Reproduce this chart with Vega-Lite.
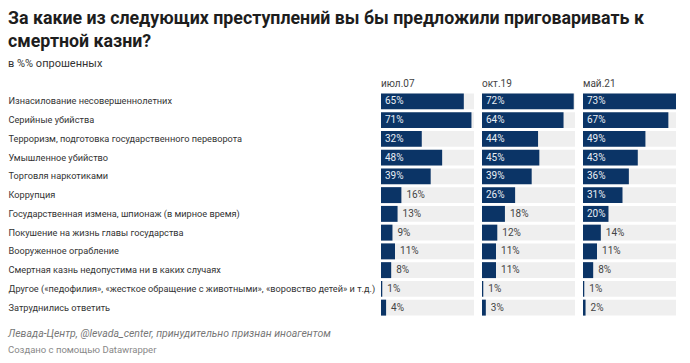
{
  "$schema": "https://vega.github.io/schema/vega-lite/v6.json",
  "padding": {"left": 8, "top": 10, "right": 8, "bottom": 4},
  "background": "white",
  "config": {
    "font": "Roboto",
    "view": {"stroke": null},
    "concat": {"spacing": 8}
  },
  "title": {
    "text": ["За какие из следующих преступлений вы бы предложили приговаривать к", "смертной казни?"],
    "subtitle": "в %% опрошенных",
    "anchor": "start",
    "font": "Roboto",
    "fontSize": 17.8,
    "fontWeight": "bold",
    "color": "#1d1d1d",
    "lineHeight": 23,
    "subtitleFont": "Roboto",
    "subtitleFontSize": 11,
    "subtitleColor": "#333333",
    "subtitlePadding": 7,
    "offset": 10
  },
  "datasets": {
    "poll": [
      {"category": "Изнасилование несовершеннолетних", "survey": "июл.07", "value": 65},
      {"category": "Изнасилование несовершеннолетних", "survey": "окт.19", "value": 72},
      {"category": "Изнасилование несовершеннолетних", "survey": "май.21", "value": 73},
      {"category": "Серийные убийства", "survey": "июл.07", "value": 71},
      {"category": "Серийные убийства", "survey": "окт.19", "value": 64},
      {"category": "Серийные убийства", "survey": "май.21", "value": 67},
      {"category": "Терроризм, подготовка государственного переворота", "survey": "июл.07", "value": 32},
      {"category": "Терроризм, подготовка государственного переворота", "survey": "окт.19", "value": 44},
      {"category": "Терроризм, подготовка государственного переворота", "survey": "май.21", "value": 49},
      {"category": "Умышленное убийство", "survey": "июл.07", "value": 48},
      {"category": "Умышленное убийство", "survey": "окт.19", "value": 45},
      {"category": "Умышленное убийство", "survey": "май.21", "value": 43},
      {"category": "Торговля наркотиками", "survey": "июл.07", "value": 39},
      {"category": "Торговля наркотиками", "survey": "окт.19", "value": 39},
      {"category": "Торговля наркотиками", "survey": "май.21", "value": 36},
      {"category": "Коррупция", "survey": "июл.07", "value": 16},
      {"category": "Коррупция", "survey": "окт.19", "value": 26},
      {"category": "Коррупция", "survey": "май.21", "value": 31},
      {"category": "Государственная измена, шпионаж (в мирное время)", "survey": "июл.07", "value": 13},
      {"category": "Государственная измена, шпионаж (в мирное время)", "survey": "окт.19", "value": 18},
      {"category": "Государственная измена, шпионаж (в мирное время)", "survey": "май.21", "value": 20},
      {"category": "Покушение на жизнь главы государства", "survey": "июл.07", "value": 9},
      {"category": "Покушение на жизнь главы государства", "survey": "окт.19", "value": 12},
      {"category": "Покушение на жизнь главы государства", "survey": "май.21", "value": 14},
      {"category": "Вооруженное ограбление", "survey": "июл.07", "value": 11},
      {"category": "Вооруженное ограбление", "survey": "окт.19", "value": 11},
      {"category": "Вооруженное ограбление", "survey": "май.21", "value": 11},
      {"category": "Смертная казнь недопустима ни в каких случаях", "survey": "июл.07", "value": 8},
      {"category": "Смертная казнь недопустима ни в каких случаях", "survey": "окт.19", "value": 11},
      {"category": "Смертная казнь недопустима ни в каких случаях", "survey": "май.21", "value": 8},
      {"category": "Другое («педофилия», «жесткое обращение с животными», «воровство детей» и т.д.)", "survey": "июл.07", "value": 1},
      {"category": "Другое («педофилия», «жесткое обращение с животными», «воровство детей» и т.д.)", "survey": "окт.19", "value": 1},
      {"category": "Другое («педофилия», «жесткое обращение с животными», «воровство детей» и т.д.)", "survey": "май.21", "value": 1},
      {"category": "Затруднились ответить", "survey": "июл.07", "value": 4},
      {"category": "Затруднились ответить", "survey": "окт.19", "value": 3},
      {"category": "Затруднились ответить", "survey": "май.21", "value": 2}
    ]
  },
  "vconcat": [
    {
      "title": {
        "text": "Левада-Центр, @levada_center, принудительно признан иноагентом",
        "subtitle": "Создано с помощью Datawrapper",
        "orient": "bottom",
        "anchor": "start",
        "font": "Roboto",
        "fontSize": 10.5,
        "fontStyle": "italic",
        "fontWeight": "normal",
        "color": "#777777",
        "subtitleFont": "Roboto",
        "subtitleFontSize": 9.5,
        "subtitleColor": "#888888",
        "subtitlePadding": 5,
        "offset": 12
      },
      "hconcat": [
        {
          "title": {"text": "июл.07", "anchor": "start", "frame": "group", "fontSize": 10, "fontWeight": "normal", "color": "#444444", "offset": 3},
          "width": 93,
          "height": 225,
          "data": {"name": "poll"},
          "transform": [{"filter": "datum.survey === 'июл.07'"}, {"calculate": "datum.value + '%'", "as": "label"}],
          "encoding": {
            "y": {
              "field": "category", "type": "nominal",
              "sort": ["Изнасилование несовершеннолетних", "Серийные убийства", "Терроризм, подготовка государственного переворота", "Умышленное убийство", "Торговля наркотиками", "Коррупция", "Государственная измена, шпионаж (в мирное время)", "Покушение на жизнь главы государства", "Вооруженное ограбление", "Смертная казнь недопустима ни в каких случаях", "Другое («педофилия», «жесткое обращение с животными», «воровство детей» и т.д.)", "Затруднились ответить"],
              "scale": {"paddingInner": 0.15, "paddingOuter": 0.075},
              "axis": {"title": null, "ticks": false, "domain": false, "labelAlign": "left", "labelPadding": 373, "labelLimit": 0, "labelFontSize": 9.2, "labelColor": "#333333", "labelFont": "Roboto"}
            }
          },
          "layer": [
            {"mark": {"type": "bar", "color": "#efefef"}, "encoding": {"x": {"datum": 73, "type": "quantitative", "scale": {"domain": [0, 73], "nice": false}, "axis": null}}},
            {"mark": {"type": "bar", "color": "#0b3466"}, "encoding": {"x": {"field": "value", "type": "quantitative", "scale": {"domain": [0, 73], "nice": false}, "axis": null}}},
            {"transform": [{"filter": "datum.value >= 20"}], "mark": {"type": "text", "align": "left", "dx": 4, "fontSize": 10, "color": "#e8eef5"}, "encoding": {"x": {"datum": 0, "type": "quantitative"}, "text": {"field": "label"}}},
            {"transform": [{"filter": "datum.value < 20"}], "mark": {"type": "text", "align": "left", "dx": 5, "fontSize": 10, "color": "#444444"}, "encoding": {"x": {"field": "value", "type": "quantitative"}, "text": {"field": "label"}}}
          ]
        },
        {
          "title": {"text": "окт.19", "anchor": "start", "frame": "group", "fontSize": 10, "fontWeight": "normal", "color": "#444444", "offset": 3},
          "width": 93,
          "height": 225,
          "data": {"name": "poll"},
          "transform": [{"filter": "datum.survey === 'окт.19'"}, {"calculate": "datum.value + '%'", "as": "label"}],
          "encoding": {
            "y": {
              "field": "category", "type": "nominal",
              "sort": ["Изнасилование несовершеннолетних", "Серийные убийства", "Терроризм, подготовка государственного переворота", "Умышленное убийство", "Торговля наркотиками", "Коррупция", "Государственная измена, шпионаж (в мирное время)", "Покушение на жизнь главы государства", "Вооруженное ограбление", "Смертная казнь недопустима ни в каких случаях", "Другое («педофилия», «жесткое обращение с животными», «воровство детей» и т.д.)", "Затруднились ответить"],
              "scale": {"paddingInner": 0.15, "paddingOuter": 0.075},
              "axis": null
            }
          },
          "layer": [
            {"mark": {"type": "bar", "color": "#efefef"}, "encoding": {"x": {"datum": 73, "type": "quantitative", "scale": {"domain": [0, 73], "nice": false}, "axis": null}}},
            {"mark": {"type": "bar", "color": "#0b3466"}, "encoding": {"x": {"field": "value", "type": "quantitative", "scale": {"domain": [0, 73], "nice": false}, "axis": null}}},
            {"transform": [{"filter": "datum.value >= 20"}], "mark": {"type": "text", "align": "left", "dx": 4, "fontSize": 10, "color": "#e8eef5"}, "encoding": {"x": {"datum": 0, "type": "quantitative"}, "text": {"field": "label"}}},
            {"transform": [{"filter": "datum.value < 20"}], "mark": {"type": "text", "align": "left", "dx": 5, "fontSize": 10, "color": "#444444"}, "encoding": {"x": {"field": "value", "type": "quantitative"}, "text": {"field": "label"}}}
          ]
        },
        {
          "title": {"text": "май.21", "anchor": "start", "frame": "group", "fontSize": 10, "fontWeight": "normal", "color": "#444444", "offset": 3},
          "width": 93,
          "height": 225,
          "data": {"name": "poll"},
          "transform": [{"filter": "datum.survey === 'май.21'"}, {"calculate": "datum.value + '%'", "as": "label"}],
          "encoding": {
            "y": {
              "field": "category", "type": "nominal",
              "sort": ["Изнасилование несовершеннолетних", "Серийные убийства", "Терроризм, подготовка государственного переворота", "Умышленное убийство", "Торговля наркотиками", "Коррупция", "Государственная измена, шпионаж (в мирное время)", "Покушение на жизнь главы государства", "Вооруженное ограбление", "Смертная казнь недопустима ни в каких случаях", "Другое («педофилия», «жесткое обращение с животными», «воровство детей» и т.д.)", "Затруднились ответить"],
              "scale": {"paddingInner": 0.15, "paddingOuter": 0.075},
              "axis": null
            }
          },
          "layer": [
            {"mark": {"type": "bar", "color": "#efefef"}, "encoding": {"x": {"datum": 73, "type": "quantitative", "scale": {"domain": [0, 73], "nice": false}, "axis": null}}},
            {"mark": {"type": "bar", "color": "#0b3466"}, "encoding": {"x": {"field": "value", "type": "quantitative", "scale": {"domain": [0, 73], "nice": false}, "axis": null}}},
            {"transform": [{"filter": "datum.value >= 20"}], "mark": {"type": "text", "align": "left", "dx": 4, "fontSize": 10, "color": "#e8eef5"}, "encoding": {"x": {"datum": 0, "type": "quantitative"}, "text": {"field": "label"}}},
            {"transform": [{"filter": "datum.value < 20"}], "mark": {"type": "text", "align": "left", "dx": 5, "fontSize": 10, "color": "#444444"}, "encoding": {"x": {"field": "value", "type": "quantitative"}, "text": {"field": "label"}}}
          ]
        }
      ]
    }
  ]
}
